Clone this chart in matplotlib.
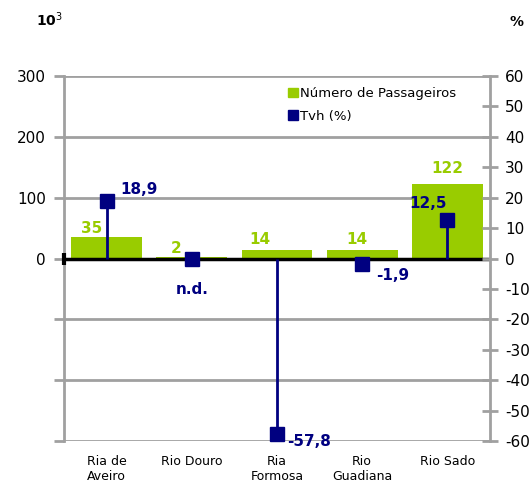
import numpy as np
import matplotlib
matplotlib.use("Agg")
from matplotlib import pyplot as plt
from matplotlib.patches import Patch
from matplotlib.lines import Line2D

# data
categories = ["Ria de\nAveiro", "Rio Douro", "Ria\nFormosa", "Rio\nGuadiana", "Rio Sado"]
passageiros = [35, 2, 14, 14, 122]          # 10^3
pass_labels = ["35", "2", "14", "14", "122"]
tvh = [18.9, 0.0, -57.8, -1.9, 12.5]        # %, Rio Douro n.d. drawn at 0
tvh_labels = ["18,9", "n.d.", "-57,8", "-1,9", "12,5"]

GREEN = "#99CC00"
NAVY = "#000080"
GRID = "#A0A0A0"

plt.rcParams["font.family"] = "DejaVu Sans"

fig = plt.figure(figsize=(5.32, 4.91), dpi=100)
ax = fig.add_axes([0.1203, 0.1018, 0.8007, 0.7434])
ax2 = ax.twinx()

x = np.arange(len(categories))

# bars (left axis)
ax.bar(x, passageiros, width=0.83, color=GREEN, zorder=2)
ax.set_xlim(-0.5, len(categories) - 0.5)
ax.set_ylim(-300, 300)
ax.set_yticks([-300, -200, -100, 0, 100, 200, 300])
ax.set_yticklabels(["", "", "", "0", "100", "200", "300"])
ax.yaxis.grid(True, color=GRID, lw=2)
ax.set_axisbelow(True)
ax.tick_params(axis="y", length=7, width=2, color=GRID, pad=6, labelsize=11)
ax.set_xticks(x)
ax.set_xticklabels(categories, fontsize=9, linespacing=1.25)
ax.tick_params(axis="x", length=0, pad=10)
for s in ["top", "bottom", "right"]:
    ax.spines[s].set_visible(False)
ax.spines["left"].set_color(GRID)
ax.spines["left"].set_linewidth(2)

# zero line
ax.axhline(0, color="black", lw=2.5, zorder=3)
ax.plot([-0.5], [0], marker="|", color="black", ms=8, mew=3, clip_on=False, zorder=4)

# green value labels (offsets in points)
pass_off = [(-11, 1), (-11, 1), (-12, 2), (-4, 2), (0, 6)]
for xi, v, lab, off in zip(x, passageiros, pass_labels, pass_off):
    ax.annotate(lab, (xi, v), xytext=off, textcoords="offset points",
                ha="center", va="bottom", color=GREEN, fontsize=11,
                fontweight="bold", zorder=5)

# Tvh stems and markers (right axis)
ax2.set_ylim(-60, 60)
ax2.vlines(x, 0, tvh, color=NAVY, lw=2, zorder=4)
ax2.plot(x, tvh, ls="none", marker="s", ms=10, color=NAVY, zorder=5, clip_on=False)
ax2.set_yticks(np.arange(-60, 61, 10))
ax2.set_yticklabels([str(v) for v in range(-60, 61, 10)])
ax2.tick_params(axis="y", direction="inout", length=12, width=2, color=GRID,
                pad=5, labelsize=11)
for s in ["top", "bottom", "left"]:
    ax2.spines[s].set_visible(False)
ax2.spines["right"].set_color(GRID)
ax2.spines["right"].set_linewidth(2)

tvh_off = [(10, 8), (0, -22), (7, -5), (10, -8), (-14, 12)]
tvh_ha = ["left", "center", "left", "left", "center"]
for xi, v, lab, off, ha in zip(x, tvh, tvh_labels, tvh_off, tvh_ha):
    ax2.annotate(lab, (xi, v), xytext=off, textcoords="offset points",
                 ha=ha, va="center", color=NAVY, fontsize=11,
                 fontweight="bold", zorder=6)

# legend
handles = [Patch(color=GREEN, label="Número de Passageiros"),
           Line2D([], [], ls="none", marker="s", ms=7.5, color=NAVY, label="Tvh (%)")]
ax2.legend(handles=handles, loc="upper left", bbox_to_anchor=(0.505, 0.995),
           frameon=False, fontsize=9.5, handlelength=0.75, handleheight=0.75,
           handletextpad=0.15, labelspacing=0.75, borderpad=0.2)

fig.text(36 / 532, 1 - 20 / 491, "10$^3$", fontsize=10, fontweight="bold",
         ha="left", va="center")
fig.text(516 / 532, 1 - 22 / 491, "%", fontsize=10, fontweight="bold",
         ha="center", va="center")

fig.savefig("out.png", dpi=100)
